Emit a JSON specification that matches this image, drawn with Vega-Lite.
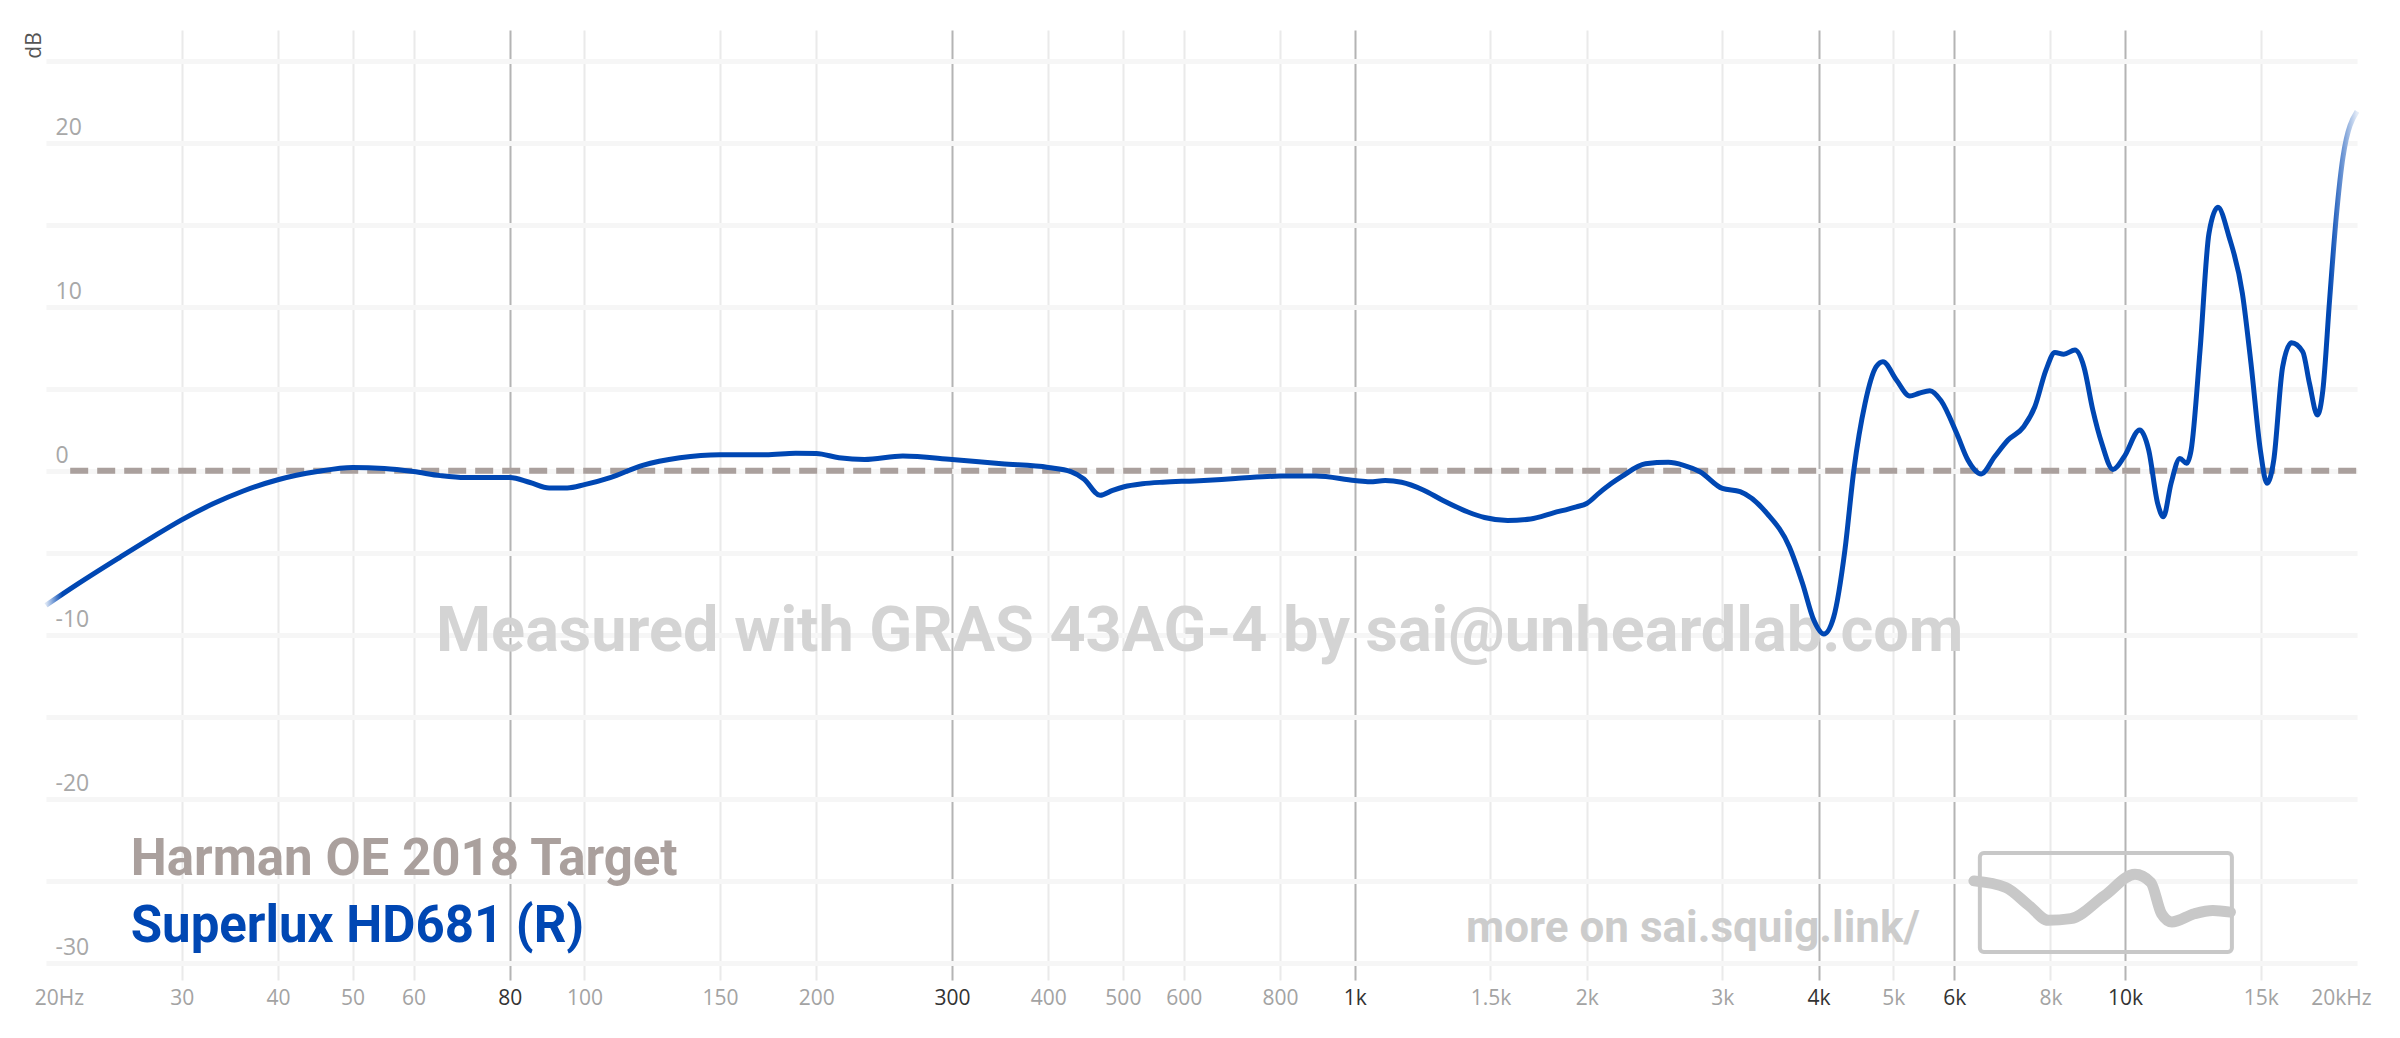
{
  "$schema": "https://vega.github.io/schema/vega-lite/v6.json",
  "width": 2311,
  "height": 950,
  "autosize": {"type": "none"},
  "padding": {"left": 46, "top": 30, "right": 43, "bottom": 58},
  "background": "white",
  "config": {"view": {"stroke": null}, "font": "Open Sans"},
  "datasets": {
    "curve": [
      {"f":20,"v":-8.2},{"f":22,"v":-6.9},{"f":25,"v":-5.25},{"f":27.5,"v":-4.05},
      {"f":30,"v":-3.0},{"f":33,"v":-2.0},{"f":36,"v":-1.25},{"f":40,"v":-0.55},{"f":45,"v":-0.05},
      {"f":50,"v":0.2},{"f":55,"v":0.14},{"f":60,"v":-0.05},{"f":65,"v":-0.3},{"f":70,"v":-0.42},
      {"f":75,"v":-0.42},{"f":80,"v":-0.42},{"f":85,"v":-0.72},{"f":90,"v":-1.05},{"f":95,"v":-1.05},{"f":100,"v":-0.85},
      {"f":108,"v":-0.42},{"f":119,"v":0.33},{"f":133,"v":0.79},{"f":150,"v":0.98},{"f":172,"v":0.98},{"f":188,"v":1.07},
      {"f":200,"v":1.05},{"f":214,"v":0.79},{"f":231,"v":0.68},{"f":259,"v":0.89},{"f":300,"v":0.68},{"f":348,"v":0.42},
      {"f":400,"v":0.2},{"f":428,"v":-0.05},{"f":445,"v":-0.5},{"f":467,"v":-1.5},{"f":485,"v":-1.2},{"f":502,"v":-0.98},
      {"f":530,"v":-0.8},{"f":563,"v":-0.7},{"f":620,"v":-0.62},{"f":700,"v":-0.48},{"f":800,"v":-0.33},{"f":890,"v":-0.33},
      {"f":1000,"v":-0.6},{"f":1046,"v":-0.68},{"f":1095,"v":-0.6},{"f":1150,"v":-0.7},{"f":1227,"v":-1.17},{"f":1300,"v":-1.8},
      {"f":1400,"v":-2.5},{"f":1474,"v":-2.85},{"f":1579,"v":-3.03},{"f":1691,"v":-2.94},{"f":1811,"v":-2.57},{"f":1939,"v":-2.2},
      {"f":2000,"v":-2.0},{"f":2077,"v":-1.35},{"f":2150,"v":-0.8},{"f":2225,"v":-0.33},{"f":2384,"v":0.42},{"f":2553,"v":0.51},
      {"f":2673,"v":0.33},{"f":2806,"v":-0.06},{"f":3000,"v":-1.08},{"f":3164,"v":-1.28},{"f":3428,"v":-2.6},{"f":3665,"v":-4.63},
      {"f":3813,"v":-6.87},{"f":3943,"v":-9.1},{"f":4064,"v":-9.95},{"f":4186,"v":-8.9},{"f":4328,"v":-4.83},{"f":4445,"v":0.04},
      {"f":4596,"v":4.1},{"f":4752,"v":6.34},{"f":4848,"v":6.64},{"f":5048,"v":5.53},{"f":5254,"v":4.55},{"f":5400,"v":4.72},
      {"f":5579,"v":4.88},{"f":5768,"v":4.27},{"f":6044,"v":2.28},{"f":6250,"v":0.65},{"f":6505,"v":-0.2},{"f":6770,"v":0.85},
      {"f":7047,"v":1.87},{"f":7385,"v":2.68},{"f":7635,"v":3.9},{"f":7893,"v":6.13},{"f":8107,"v":7.21},{"f":8325,"v":7.1},
      {"f":8609,"v":7.35},{"f":8840,"v":6.34},{"f":9080,"v":3.7},{"f":9326,"v":1.67},{"f":9643,"v":0.08},{"f":9970,"v":0.85},
      {"f":10446,"v":2.48},{"f":10731,"v":1.26},{"f":11021,"v":-1.99},{"f":11213,"v":-2.8},{"f":11472,"v":-0.77},{"f":11780,"v":0.75},
      {"f":12019,"v":0.45},{"f":12182,"v":1.26},{"f":12511,"v":7.35},{"f":12848,"v":14.46},{"f":13196,"v":16.05},{"f":13643,"v":14.26},
      {"f":14200,"v":10.8},{"f":14584,"v":6.34},{"f":14981,"v":1.26},{"f":15284,"v":-0.77},{"f":15594,"v":0.65},{"f":16015,"v":6.34},
      {"f":16448,"v":7.8},{"f":17006,"v":7.25},{"f":17351,"v":5.32},{"f":17772,"v":3.39},{"f":18061,"v":4.92},{"f":18427,"v":10.4},
      {"f":18800,"v":15.5},{"f":19181,"v":19.13},{"f":20000,"v":21.9}
    ],
    "target": [{"f":21.5,"v":0},{"f":20000,"v":0}],
    "watermark": [{"f":629,"v":-10.97,"text":"Measured with GRAS 43AG-4 by sai@unheardlab.com"}],
    "more": [{"f":2748,"v":-28.72,"text":"more on sai.squig.link/"}],
    "legendTarget": [{"f":25.76,"v":-24.64,"text":"Harman OE 2018 Target"}],
    "legendCurve": [{"f":25.76,"v":-28.72,"text":"Superlux HD681 (R)"}],
    "logoBox": [{"f":6478,"f2":13760,"v":-23.3,"v2":-29.33}],
    "logoLine": [
      {"f":6364,"v":-25.0},{"f":7000,"v":-25.4},{"f":7500,"v":-26.5},{"f":7950,"v":-27.4},{"f":8500,"v":-27.3},
      {"f":9400,"v":-25.9},{"f":10300,"v":-24.6},{"f":10800,"v":-25.1},{"f":11150,"v":-27.0},{"f":11500,"v":-27.5},
      {"f":12300,"v":-27.0},{"f":13000,"v":-26.8},{"f":13700,"v":-26.9}
    ]
  },
  "encoding": {
    "x": {
      "field": "f", "type": "quantitative",
      "scale": {"type": "log", "domain": [20, 20000], "nice": false},
      "axis": {
        "title": null,
        "values": [20,30,40,50,60,80,100,150,200,300,400,500,600,800,1000,1500,2000,3000,4000,5000,6000,8000,10000,15000,20000],
        "labelExpr": "datum.value == 20 ? '20Hz' : datum.value == 20000 ? '20kHz' : datum.value >= 1000 ? (datum.value / 1000) + 'k' : '' + datum.value",
        "domain": false, "ticks": false,
        "grid": true, "gridWidth": 2,
        "gridColor": {"condition": {"test": "indexof([80,300,1000,4000,6000,10000], datum.value) >= 0", "value": "#b4b4b4"}, "value": "#eaeaea"},
        "gridOpacity": {"condition": {"test": "datum.value == 20 || datum.value == 20000", "value": 0}, "value": 1},
        "labelColor": {"condition": {"test": "indexof([80,300,1000,4000,6000,10000], datum.value) >= 0", "value": "#333333"}, "value": "#a3a3a3"},
        "labelOffset": {"condition": [{"test": "datum.value == 20", "value": 13}, {"test": "datum.value == 20000", "value": -16}], "value": 0},
        "labelFont": "Open Sans", "labelFontSize": 21, "labelPadding": 7,
        "labelOverlap": false, "labelBound": false, "labelFlush": false
      }
    },
    "y": {
      "field": "v", "type": "quantitative",
      "scale": {"domain": [-31.04, 26.86], "nice": false, "zero": false},
      "axis": {
        "values": [-30,-25,-20,-15,-10,-5,0,5,10,15,20,25],
        "labelExpr": "datum.value % 10 == 0 && datum.value <= 20 ? (datum.value < 0 ? '-' + abs(datum.value) : '' + datum.value) : ''",
        "domain": false, "ticks": false,
        "grid": true, "gridColor": "#f6f6f6", "gridWidth": 5,
        "labelAlign": "left", "labelPadding": -9, "labelBaseline": "middle", "labelOffset": -15,
        "labelColor": "#a8a8a8", "labelFont": "Open Sans", "labelFontSize": 23,
        "labelOverlap": false, "labelBound": false, "labelFlush": false,
        "title": "dB", "titleX": -6, "titleY": 15, "titleAngle": 270, "titleAlign": "center", "titleBaseline": "alphabetic",
        "titleFont": "Open Sans", "titleFontSize": 21, "titleFontWeight": "normal", "titleColor": "#555555"
      }
    }
  },
  "layer": [
    {
      "data": {"name": "watermark"},
      "mark": {"type": "text", "align": "center", "baseline": "alphabetic", "font": "Roboto", "fontWeight": "bold", "fontSize": 63, "color": "#d4d4d4"},
      "encoding": {"text": {"field": "text"}}
    },
    {
      "data": {"name": "more"},
      "mark": {"type": "text", "align": "center", "baseline": "alphabetic", "font": "Roboto", "fontWeight": "bold", "fontSize": 44, "color": "#cccccc"},
      "encoding": {"text": {"field": "text"}}
    },
    {
      "data": {"name": "logoBox"},
      "mark": {"type": "rect", "fill": null, "filled": false, "stroke": "#c8c8c8", "strokeWidth": 4, "cornerRadius": 4},
      "encoding": {"x2": {"field": "f2"}, "y2": {"field": "v2"}}
    },
    {
      "data": {"name": "logoLine"},
      "mark": {"type": "line", "interpolate": "monotone", "stroke": "#c8c8c8", "strokeWidth": 11, "strokeCap": "round"},
      "encoding": {}
    },
    {
      "data": {"name": "target"},
      "mark": {"type": "line", "strokeWidth": 6, "strokeDash": [18, 9], "stroke": "#aaa09d"},
      "encoding": {}
    },
    {
      "data": {"name": "curve"},
      "mark": {"type": "line", "interpolate": "monotone", "strokeWidth": 5, "strokeJoin": "round",
        "stroke": {"gradient": "linear", "x1": 0, "y1": 0, "x2": 1, "y2": 0,
          "stops": [{"offset": 0, "color": "#dce6f5"}, {"offset": 0.007, "color": "#0047b3"}, {"offset": 0.988, "color": "#0047b3"}, {"offset": 1, "color": "#e3ebf7"}]}},
      "encoding": {}
    },
    {
      "data": {"name": "legendTarget"},
      "mark": {"type": "text", "align": "left", "baseline": "alphabetic", "font": "Roboto", "fontWeight": "bold", "fontSize": 51, "color": "#aaa09d"},
      "encoding": {"text": {"field": "text"}}
    },
    {
      "data": {"name": "legendCurve"},
      "mark": {"type": "text", "align": "left", "baseline": "alphabetic", "font": "Roboto", "fontWeight": "bold", "fontSize": 51, "color": "#0047b3"},
      "encoding": {"text": {"field": "text"}}
    }
  ]
}
